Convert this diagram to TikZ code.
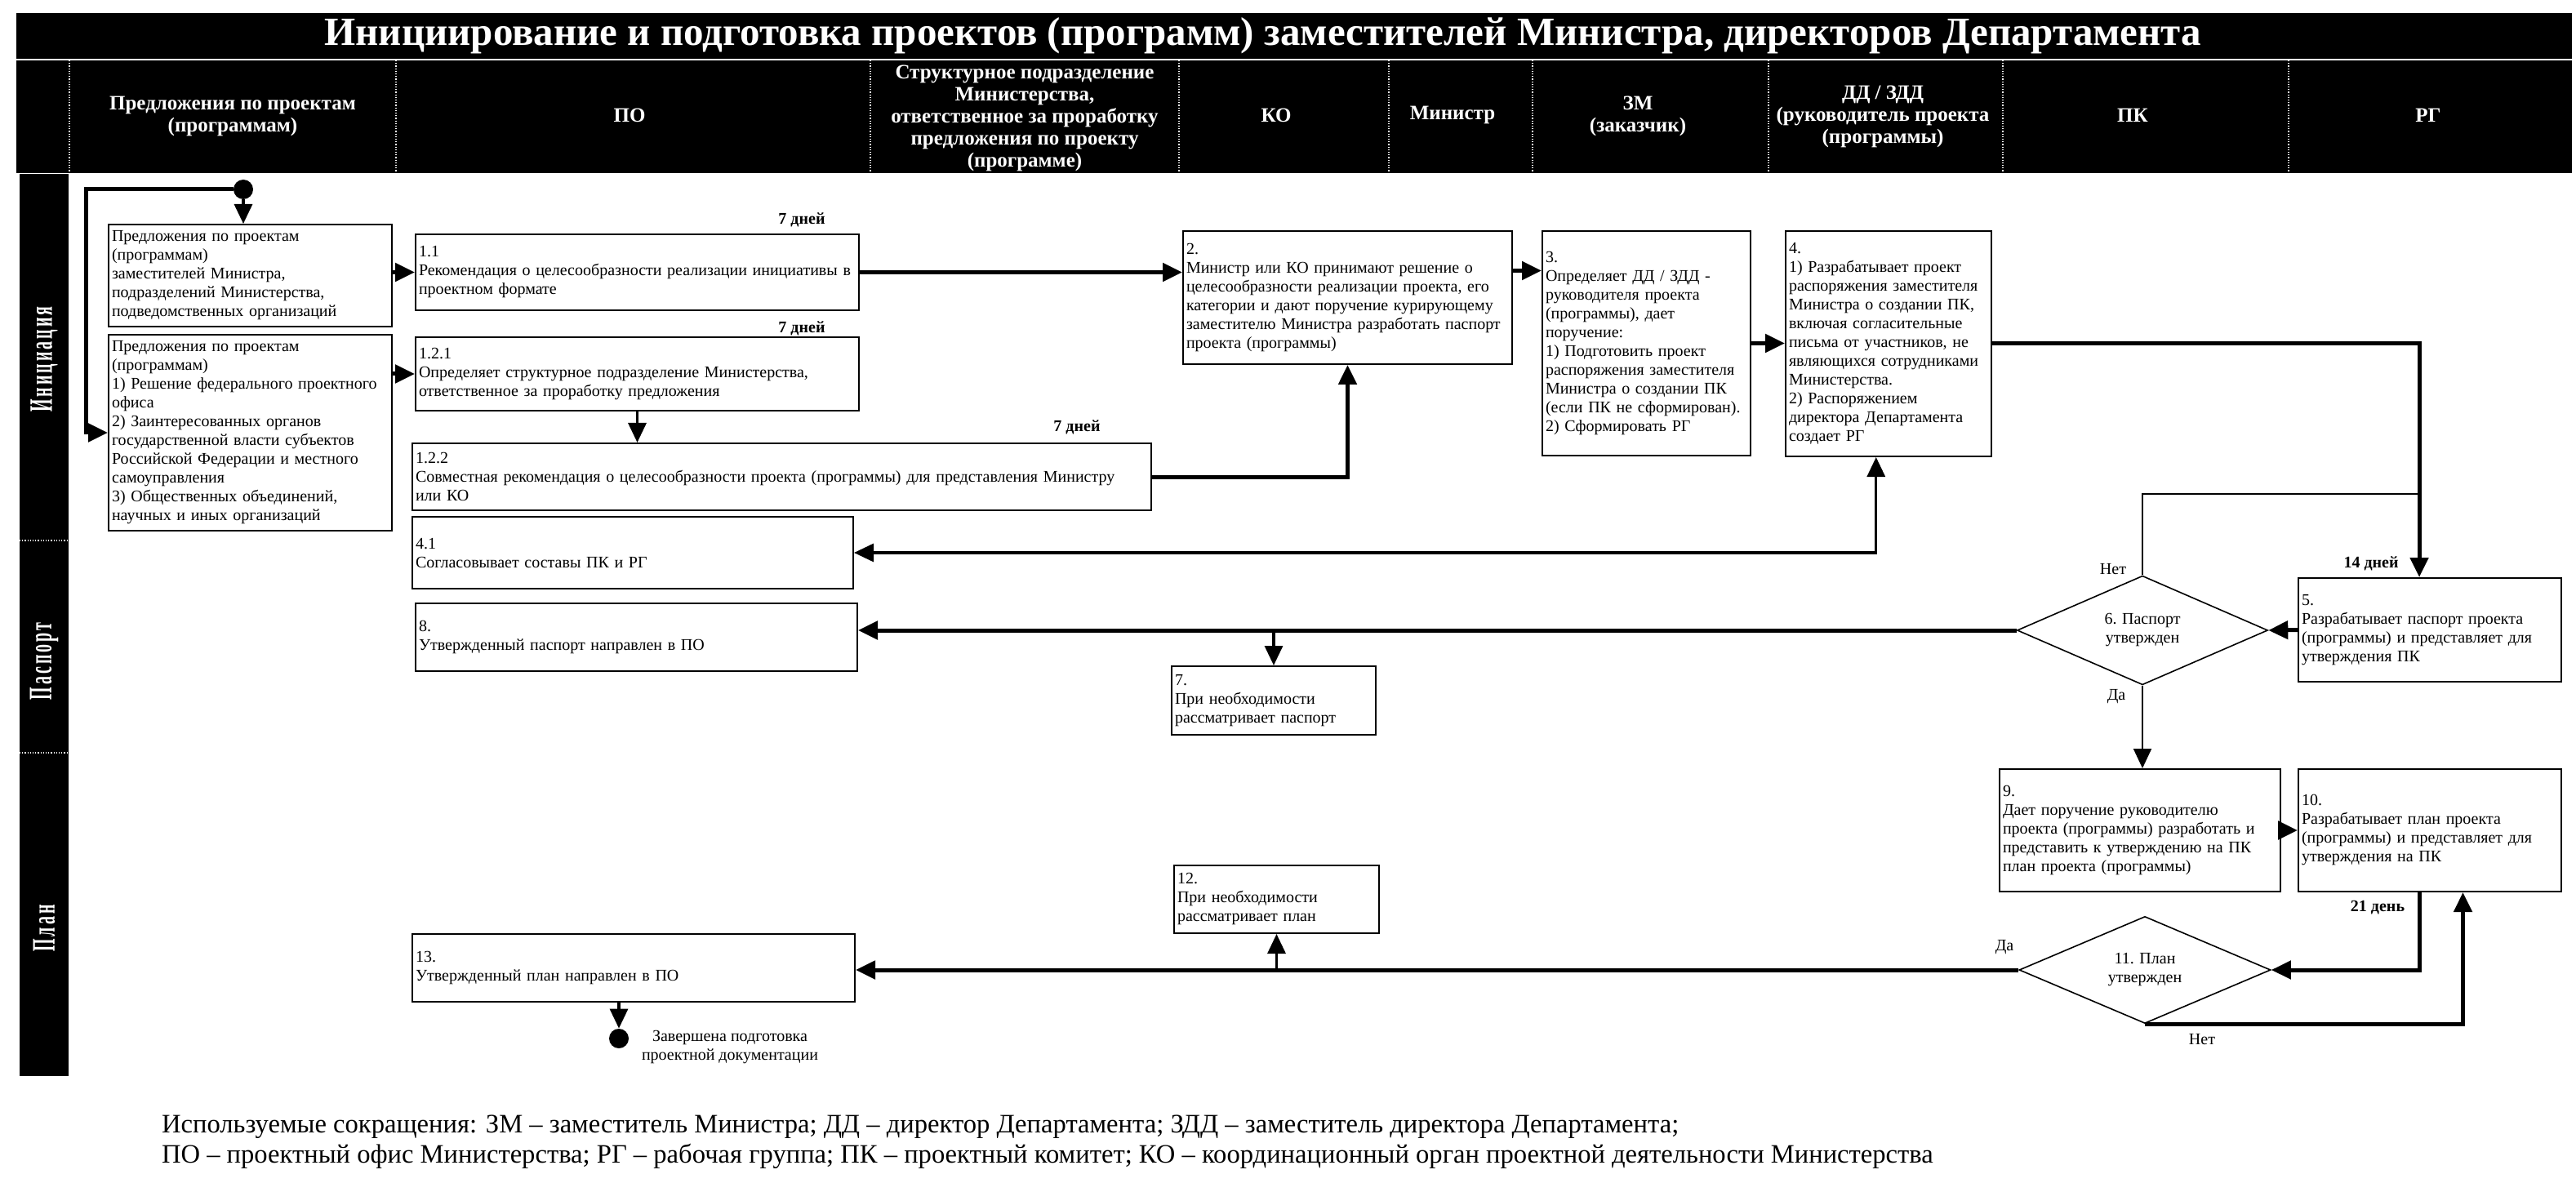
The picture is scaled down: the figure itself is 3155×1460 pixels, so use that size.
\documentclass[tikz,border=0pt]{standalone}
\usepackage{fontspec}
\setmainfont{Liberation Serif}
\newfontfamily\lanefont[LetterSpace=15]{Liberation Serif}
\usetikzlibrary{arrows.meta,shapes.geometric,calc}
\newcommand\bodyfont{\fontsize{10}{11.5}\selectfont}
\newcommand\headfont{\fontsize{12.5}{13.5}\selectfont\bfseries}
\newcommand\lanetext[1]{\scalebox{0.5}[1]{\lanefont\bfseries\fontsize{20}{22}\selectfont #1}}
\begin{document}
\begin{tikzpicture}[x=0.5pt,y=-0.5pt,
  >={Triangle[length=12pt,width=11pt]},
  box/.style={draw, line width=1pt, align=left, inner xsep=2pt, inner ysep=0pt, font=\bodyfont},
  dec/.style={draw, diamond, line width=0.8pt, align=center, font=\bodyfont, inner sep=0pt},
  bigline/.style={line width=2.5pt},
  midline/.style={line width=1.6pt},
  fineline/.style={line width=1pt},
  head/.style={text=white, font=\headfont, align=center},
  lane/.style={text=white, rotate=90},
  days/.style={font=\bodyfont\bfseries},
  lbl/.style={font=\bodyfont, align=center},
  dot/.style={circle, fill=black, minimum size=12pt, inner sep=0pt},
  sep/.style={white, line width=0.6pt, densely dotted}
]
\useasboundingbox (0,0) rectangle (3155,1460);
\fill[white] (0,0) rectangle (3155,1460);
% title band and header
\fill[black] (20,16) rectangle (3150,72);
\fill[black] (20,74) rectangle (3150,212);
\fill[black] (24,213) rectangle (84,1318);
\foreach \xx in {85,485,1066,1444,1701,1877,2166,2453,2803}
  \draw[sep] (\xx,74) -- (\xx,212);
\draw[sep] (24,662) -- (84,662);
\draw[sep] (24,922) -- (84,922);

\node[text=white, font=\fontsize{24.5}{26}\selectfont\bfseries] (title) at (1547,44)
  {Инициирование и подготовка проектов (программ) заместителей Министра, директоров Департамента};
\node[head] (h1) at (285,142) {Предложения по проектам\\(программам)};
\node[head] (h2) at (771,141) {ПО};
\node[head] (h3) at (1255,145) {Структурное подразделение\\Министерства,\\ответственное за проработку\\предложения по проекту\\(программе)};
\node[head] (h4) at (1563,141) {КО};
\node[head] (h5) at (1779,141) {Министр};
\node[head] (h6) at (2006,142) {ЗМ\\(заказчик)};
\node[head] (h7) at (2306,143) {ДД / ЗДД\\(руководитель проекта\\(программы)};
\node[head] (h8) at (2612,141) {ПК};
\node[head] (h9) at (2974,141) {РГ};

\node[lane] (l1) at (54,440) {\lanetext{Инициация}};
\node[lane] (l2) at (54,810) {\lanetext{Паспорт}};
\node[lane] (l3) at (54,1137) {\lanetext{План}};

% boxes
\node[dot] (start) at (298,232) {};
\node[box, text width=169.5pt, minimum height=62.5pt] (A) at (306.5,337.5)
  {Предложения по проектам\\(программам)\\заместителей Министра,\\подразделений Министерства,\\подведомственных организаций};
\node[box, text width=169.5pt, minimum height=120pt] (B) at (306.5,530)
  {Предложения по проектам\\(программам)\\1) Решение федерального проектного\\офиса\\2) Заинтересованных органов\\государственной  власти субъектов\\Российской Федерации и местного\\самоуправления\\3) Общественных объединений,\\научных и иных организаций};
\node[box, text width=267.5pt, minimum height=46.5pt] (n11) at (780.5,333.5)
  {1.1\\Рекомендация о целесообразности реализации инициативы в проектном формате};
\node[box, text width=267.5pt, minimum height=45pt] (n121) at (780.5,458)
  {1.2.1\\Определяет структурное подразделение Министерства,\\ответственное за проработку предложения};
\node[box, text width=448.5pt, minimum height=41pt] (n122) at (957.5,584)
  {1.2.2\\Совместная рекомендация о целесообразности проекта (программы) для представления Министру\\или КО};
\node[box, text width=266pt, minimum height=44pt] (n41) at (775,677)
  {4.1\\Согласовывает составы ПК и РГ};
\node[box, text width=266.5pt, minimum height=41.5pt] (n8) at (779.5,780.5)
  {8.\\Утвержденный паспорт направлен  в ПО};
\node[box, text width=121pt, minimum height=42pt] (n7) at (1560,858)
  {7.\\При необходимости\\рассматривает паспорт};
\node[box, text width=267pt, minimum height=41.5pt] (n13) at (776,1185.5)
  {13.\\Утвержденный план направлен  в ПО};
\node[box, text width=121.5pt, minimum height=41.5pt] (n12) at (1563.5,1101.5)
  {12.\\При необходимости\\рассматривает план};
\node[box, text width=197.5pt, minimum height=81.5pt] (n2) at (1650.5,364.5)
  {2.\\Министр или КО принимают решение о\\целесообразности реализации проекта, его\\категории и дают поручение  курирующему\\заместителю Министра разработать паспорт\\проекта (программы)};
\node[box, text width=123.5pt, minimum height=137.5pt] (n3) at (2016.5,420.5)
  {3.\\Определяет ДД / ЗДД -\\руководителя проекта\\(программы), дает\\поручение:\\1)  Подготовить проект\\распоряжения заместителя\\Министра о создании ПК\\(если ПК не сформирован).\\2) Сформировать РГ};
\node[box, text width=122pt, minimum height=138pt] (n4) at (2313,421)
  {4.\\1) Разрабатывает проект\\распоряжения заместителя\\Министра о создании ПК,\\включая согласительные\\письма от участников, не\\являющихся сотрудниками\\Министерства.\\2) Распоряжением\\директора Департамента\\создает РГ};
\node[box, text width=157pt, minimum height=63.5pt] (n5) at (2976,771.5)
  {5.\\Разрабатывает паспорт проекта\\(программы) и представляет для\\утверждения ПК};
\node[box, text width=168pt, minimum height=75pt] (n9) at (2621,1017)
  {9.\\Дает поручение руководителю\\проекта (программы) разработать и\\представить к утверждению на ПК\\план проекта (программы)};
\node[box, text width=157pt, minimum height=75pt] (n10) at (2976,1017)
  {10.\\Разрабатывает план проекта\\(программы) и представляет для\\утверждения на ПК};
\node[dec, minimum width=153.5pt, minimum height=58.5pt] (d6) at (2624,772) {6. Паспорт\\утвержден};
\node[dec, minimum width=154pt, minimum height=55.5pt] (d11) at (2627,1188) {11. План\\утвержден};
\node[dot] (end) at (758,1272) {};

% labels
\node[days] (t1) at (982,269) {7 дней};
\node[days] (t2) at (982,402) {7 дней};
\node[days] (t3) at (1319,523) {7 дней};
\node[days] (t4) at (2904,690) {14 дней};
\node[days] (t5) at (2912,1112) {21 день};
\node[lbl] (no6) at (2588,697) {Нет};
\node[lbl] (yes6) at (2592,853) {Да};
\node[lbl] (yes11) at (2455,1160) {Да};
\node[lbl] (no11) at (2697,1273) {Нет};
\node[lbl] (endl) at (894,1283) {Завершена подготовка\\проектной документации};
\node[font=\fontsize{16.3}{18.5}\selectfont, align=left, anchor=west] (foot) at (191,1399)
  {Используемые сокращения: ЗМ – заместитель Министра; ДД – директор Департамента; ЗДД – заместитель директора Департамента;\\ПО – проектный офис Министерства; РГ – рабочая группа; ПК – проектный комитет; КО – координационный орган проектной деятельности Министерства};

% helper coordinates
\coordinate (c1) at (105,232);
\coordinate (p23) at ($(n2.north east)!0.3!(n2.south east)$);
\coordinate (n5t) at ($(n5.north west)!0.46!(n5.north east)$);
\coordinate (j6) at (2963,605);
\coordinate (n4b) at ($(n4.south west)!0.44!(n4.south east)$);
\coordinate (n10o) at ($(n10.south west)!0.46!(n10.south east)$);
\coordinate (n10i) at ($(n10.south west)!0.625!(n10.south east)$);
\coordinate (b7) at (n7.north |- d6.west);
\coordinate (b12) at (n12.south |- d11.west);

% connectors
\draw[midline,->] (start.south) -- (start.south |- A.north);
\draw[bigline,->] (start.west) -- (c1) |- (B.west);
\draw[bigline,->] (A.east |- n11.west) -- (n11.west);
\draw[bigline,->] (B.east |- n121.west) -- (n121.west);
\draw[bigline,->] (n11.east) -- (n11.east -| n2.west);
\draw[midline,->] (n121.south) -- (n121.south |- n122.north);
\draw[bigline,->] (n122.east) -| (n2.south);
\draw[bigline,->] (p23) -- (p23 -| n3.west);
\draw[bigline,->] (n3.east) -- (n3.east -| n4.west);
\draw[bigline,->] (n4.east) -| (n5t);
\draw[midline,<->] (n41.east) -| (n4b);
\draw[bigline,->] (n5.west) -- (d6.east);
\draw[bigline,->] (d6.west) -- (d6.west -| n8.east);
\draw[midline,->] (b7) -- (n7.north);
\draw[fineline] (d6.north) |- (j6);
\draw[fineline,->] (d6.south) -- (d6.south |- n9.north);
\draw[bigline,->] (n9.east) -- (n10.west);
\draw[bigline,->] (n10o) |- (d11.east);
\draw[bigline,->] (d11.south) -| (n10i);
\draw[bigline,->] (d11.west) -- (d11.west -| n13.east);
\draw[midline,->] (b12) -- (n12.south);
\draw[midline,->] (end.north |- n13.south) -- (end.north);
\end{tikzpicture}
\end{document}
